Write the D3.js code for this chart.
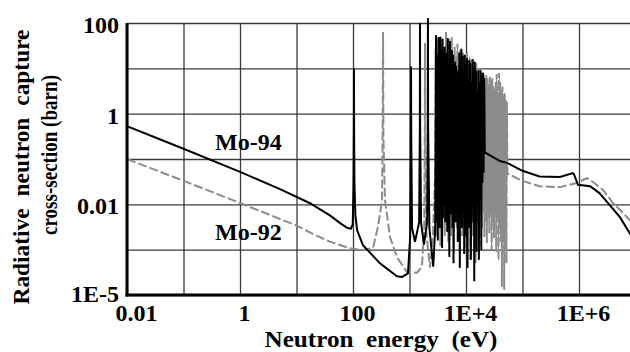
<!DOCTYPE html>
<html>
<head>
<meta charset="utf-8">
<script src="https://cdn.jsdelivr.net/npm/d3@7"></script>
<style>
  body { margin: 0; background: #fff; }
  text { font-family: "Liberation Serif", "Times New Roman", serif; font-weight: bold; fill: #000; }
</style>
</head>
<body>
<svg width="630" height="352"></svg>
<script>
// Constants
const svg = d3.select('svg');
const width = +svg.attr('width');
const height = +svg.attr('height');
const margin = { top: 23, right: 0, bottom: 57, left: 127 };
const decade_w = 56.5;

// Axis ticks and labels as printed
const x_grid = [0.01, 0.1, 1, 10, 100, 1e3, 1e4, 1e5, 1e6, 1e7];
const y_grid = [1e-4, 1e-3, 0.01, 0.1, 1, 10, 100];
const x_ticks = [0.01, 1, 100, 1e4, 1e6];
const x_tick_labels = ['0.01', '1', '100', '1E+4', '1E+6'];
const y_ticks = [1e-4, 0.01, 1, 100];
const y_tick_labels = ['1E-5', '0.01', '1', '100'];

// Mo-94 capture cross-section [energy eV, barn]
const mo94 = [
  [0.01, 0.53], [0.1, 0.168], [1, 0.052], [5, 0.022], [17, 0.0107], [39, 0.0057], [60, 0.0038],
  [80, 0.0030], [92, 0.0029], [99, 0.0036], [102, 0.03], [103.5, 0.6], [104, 10], [104.5, 0.6],
  [106, 0.03], [110, 0.006], [118, 0.0027], [150, 0.00126], [300, 5e-4], [600, 2.6e-4], [740, 2.5e-4],
  [940, 3e-4], [1030, 0.002], [1058, 0.4], [1065, 11], [1072, 0.4], [1110, 0.003], [1250, 0.0015],
  [1480, 0.004], [1525, 0.5], [1535, 100], [1545, 0.5], [1600, 0.004], [1800, 0.0013], [2050, 0.004],
  [2105, 0.6], [2120, 129], [2135, 0.6], [2250, 0.003], [2630, 4.2e-4],
  [2850, 0.003], [2950, 54], [3020, 0.004], [3100, 20], [3170, 0.0016], [3250, 48], [3310, 0.006],
  [3380, 12], [3450, 0.003], [3520, 50], [3610, 0.008], [3700, 25], [3770, 0.0011], [3850, 45],
  [3920, 0.005], [4000, 15], [4100, 0.01], [4200, 30], [4290, 0.004], [4380, 8], [4460, 0.007],
  [4550, 22], [4650, 0.0025], [4750, 46], [4850, 0.009], [4950, 12], [5070, 0.0007], [5200, 40],
  [5300, 0.006], [5400, 18], [5520, 0.012], [5650, 25], [5770, 0.003], [5900, 20], [6020, 0.0005],
  [6150, 6], [6270, 0.008], [6400, 14], [6550, 0.004], [6700, 11], [6850, 0.01], [7000, 4],
  [7150, 0.0015], [7300, 9], [7450, 0.006], [7600, 22], [7770, 0.0004], [7950, 14], [8120, 0.009],
  [8300, 27], [8500, 0.003], [8700, 19], [8900, 0.012], [9100, 8], [9300, 0.0008], [9500, 20],
  [9700, 0.007], [9900, 12], [10150, 0.002], [10400, 17], [10650, 0.0004], [10900, 6], [11150, 0.008],
  [11400, 15], [11650, 0.003], [11900, 13], [12200, 0.0006], [12500, 5], [12800, 0.01], [13100, 16],
  [13400, 0.004], [13700, 10], [14000, 0.0002], [14300, 14], [14650, 0.006], [15000, 9], [15350, 0.0009],
  [15700, 3], [16100, 0.012], [16500, 9], [16900, 0.0006], [17300, 5], [17750, 0.02], [18200, 9],
  [18650, 0.001], [19100, 7], [19550, 0.03], [20000, 8], [20500, 0.05], [21000, 6], [21500, 0.14],
  [40000, 0.09], [53000, 0.082], [1e5, 0.055], [2e5, 0.041], [4.6e5, 0.040], [7.8e5, 0.049],
  [8.2e5, 0.045], [9.6e5, 0.027], [1.57e6, 0.025], [2.3e6, 0.0177], [3.5e6, 0.0096], [5.3e6, 0.0052],
  [7.9e6, 0.0023], [1e7, 0.0015]
];

// Mo-92 capture cross-section [energy eV, barn]
const mo92 = [
  [0.01, 0.1], [0.1, 0.033], [1, 0.0107], [10, 0.0034], [20, 0.0022], [39, 0.0015], [88, 0.00107],
  [150, 0.00098], [226, 0.0011], [277, 0.0032], [310, 0.008], [326, 0.0125], [334, 0.3], [340, 63],
  [346, 0.3], [368, 0.0125], [452, 0.0019], [601, 6.8e-4], [904, 3.2e-4], [1360, 3.1e-4], [1660, 4.2e-4],
  [1820, 0.003], [1865, 0.4], [1880, 36], [1895, 0.4], [1950, 0.003], [2300, 4e-4], [2600, 0.002],
  [2850, 0.05], [2900, 30], [3020, 0.002], [3150, 12], [3270, 0.004], [3400, 40], [3520, 0.0012],
  [3650, 18], [3800, 0.006], [3950, 25], [4200, 0.002], [4430, 63], [4560, 0.004], [4700, 20],
  [4850, 0.0015], [5000, 45], [5150, 0.007], [5300, 15], [5450, 0.002], [5600, 49], [5770, 0.005],
  [5950, 10], [6120, 0.0009], [6300, 30], [6470, 0.006], [6650, 18], [6850, 0.003], [7050, 35],
  [7250, 0.008], [7450, 12], [7650, 0.0015], [7850, 25], [8070, 0.005], [8300, 20], [8550, 0.002],
  [8800, 22], [9050, 0.007], [9300, 9], [9550, 0.0011], [9800, 18], [10100, 0.006], [10400, 22],
  [10700, 0.003], [11000, 12], [11300, 0.008], [11600, 18], [11950, 0.0006], [12300, 15], [12650, 0.005],
  [13000, 8], [13350, 0.002], [13700, 15], [14050, 0.007], [14400, 11], [14800, 0.0005], [15200, 13],
  [15600, 0.004], [16000, 7], [16400, 0.009], [16800, 10], [17250, 0.0012], [17700, 10], [18150, 0.006],
  [18600, 6], [19100, 0.003], [19600, 8], [20100, 0.007], [20600, 7.5], [21150, 0.0019], [21700, 5],
  [22250, 0.004], [22800, 7], [23400, 0.0014], [24000, 6], [24600, 0.005], [25200, 4.5], [25850, 0.0023],
  [26500, 6.5], [27150, 0.006], [27800, 5.5], [28450, 0.001], [29100, 6], [29800, 0.004], [30500, 4],
  [31250, 0.0018], [32000, 3.5], [32750, 0.006], [33500, 5], [34250, 0.0009], [35000, 7.5],
  [35850, 0.005], [36700, 4], [37600, 0.0006], [38500, 7.9], [39400, 0.003], [40300, 5], [41250, 0.0015],
  [42200, 3.2], [43200, 0.00015], [44200, 3.9], [45250, 0.002], [46300, 2.5], [47400, 0.00013],
  [48500, 2.8], [49650, 0.001], [50800, 2.0], [51900, 0.0005], [53000, 1.8], [54000, 0.048],
  [1e5, 0.033], [2e5, 0.025], [4.6e5, 0.024], [9.1e5, 0.0295], [1.38e6, 0.038], [1.77e6, 0.031],
  [2.7e6, 0.0205], [4e6, 0.0107], [6e6, 0.0065], [7.9e6, 0.0045], [1e7, 0.0034]
];

// Resonance forest ranges (eV), drawn solid on top so the dense lines fill in
const mo94_forest = [2800, 21500];
const mo92_forest = [2800, 54000];

// Scales
const inner_height = height - margin.top - margin.bottom;
const x_scale = d3.scaleLog()
  .domain([0.01, 1e7])
  .range([margin.left, margin.left + 9 * decade_w]);
const y_scale = d3.scaleLog()
  .domain([1e-4, 100])
  .range([margin.top + inner_height, margin.top]);

const defs = svg.append('defs');
const add_clip = (id, x0, x1) => defs.append('clipPath')
  .attr('id', id)
  .append('rect')
  .attr('x', x0)
  .attr('y', 0)
  .attr('width', x1 - x0)
  .attr('height', margin.top + inner_height);
add_clip('plot-clip', margin.left, width);
add_clip('mo94-forest', x_scale(mo94_forest[0]), x_scale(mo94_forest[1]));
add_clip('mo92-forest', x_scale(mo92_forest[0]), x_scale(mo92_forest[1]));

// Grid
svg.append('g')
  .attr('transform', `translate(0, ${margin.top + inner_height})`)
  .call(d3.axisBottom(x_scale).tickValues(x_grid).tickSize(-inner_height).tickFormat(''))
  .call(g => g.select('.domain').remove())
  .call(g => g.selectAll('line').attr('stroke', '#3a3a3a').attr('stroke-width', 1.3));

svg.append('g')
  .attr('transform', `translate(${margin.left}, 0)`)
  .call(d3.axisLeft(y_scale).tickValues(y_grid).tickSize(-(width - margin.left)).tickFormat(''))
  .call(g => g.select('.domain').remove())
  .call(g => g.selectAll('line').attr('stroke', '#3a3a3a').attr('stroke-width', 1.3));

// Curves
const line = d3.line()
  .x(d => x_scale(d[0]))
  .y(d => y_scale(d[1]));

const curves = svg.append('g').attr('clip-path', 'url(#plot-clip)');
curves.append('path')
  .datum(mo92)
  .attr('d', line)
  .attr('fill', 'none')
  .attr('stroke', '#8c8c8c')
  .attr('stroke-width', 2)
  .attr('stroke-dasharray', '9,3');
curves.append('path')
  .datum(mo92)
  .attr('d', line)
  .attr('clip-path', 'url(#mo92-forest)')
  .attr('fill', 'none')
  .attr('stroke', '#8c8c8c')
  .attr('stroke-width', 1)
  .attr('shape-rendering', 'crispEdges');
curves.append('path')
  .datum(mo94)
  .attr('d', line)
  .attr('fill', 'none')
  .attr('stroke', '#000')
  .attr('stroke-width', 2);
curves.append('path')
  .datum(mo94)
  .attr('d', line)
  .attr('clip-path', 'url(#mo94-forest)')
  .attr('fill', 'none')
  .attr('stroke', '#000')
  .attr('stroke-width', 1)
  .attr('shape-rendering', 'crispEdges');

// Axis lines
svg.append('line')
  .attr('x1', margin.left).attr('x2', margin.left)
  .attr('y1', margin.top).attr('y2', margin.top + inner_height + 1.5)
  .attr('stroke', '#000').attr('stroke-width', 3);
svg.append('line')
  .attr('x1', margin.left - 1.5).attr('x2', width)
  .attr('y1', margin.top + inner_height).attr('y2', margin.top + inner_height)
  .attr('stroke', '#000').attr('stroke-width', 3);

// Tick labels
svg.append('g')
  .attr('transform', `translate(0, ${margin.top + inner_height})`)
  .call(d3.axisBottom(x_scale).tickValues(x_ticks).tickSize(0).tickPadding(0)
    .tickFormat((d, i) => x_tick_labels[i]))
  .call(g => g.select('.domain').remove())
  .call(g => g.selectAll('text')
    .attr('y', 26)
    .attr('dy', 0)
    .attr('dx', (d, i) => i === 0 ? 9 : 4)
    .style('font-size', '24px')
    .style('font-family', '"Liberation Serif", serif')
    .style('font-weight', 'bold')
    .attr('fill', '#000'));

svg.append('g')
  .attr('transform', `translate(${margin.left}, 0)`)
  .call(d3.axisLeft(y_scale).tickValues(y_ticks).tickSize(0).tickPadding(8)
    .tickFormat((d, i) => y_tick_labels[i]))
  .call(g => g.select('.domain').remove())
  .call(g => g.selectAll('text')
    .attr('dy', (d, i) => i === 0 ? '0.25em' : '0.4em')
    .style('font-size', '24px')
    .style('font-family', '"Liberation Serif", serif')
    .style('font-weight', 'bold')
    .attr('fill', '#000'));

// Series labels
svg.append('text')
  .attr('x', 215)
  .attr('y', 150)
  .attr('font-size', '24px')
  .text('Mo-94');
svg.append('text')
  .attr('x', 215)
  .attr('y', 240)
  .attr('font-size', '24px')
  .text('Mo-92');

// Axis titles
svg.append('text')
  .attr('x', 381)
  .attr('y', 347)
  .attr('text-anchor', 'middle')
  .attr('font-size', '24px')
  .attr('word-spacing', '6px')
  .attr('textLength', 233)
  .attr('lengthAdjust', 'spacingAndGlyphs')
  .text('Neutron energy (eV)');

svg.append('text')
  .attr('transform', 'translate(29, 167) rotate(-90)')
  .attr('text-anchor', 'middle')
  .attr('font-size', '23px')
  .attr('word-spacing', '6px')
  .attr('textLength', 275)
  .attr('lengthAdjust', 'spacingAndGlyphs')
  .text('Radiative neutron capture');

svg.append('text')
  .attr('transform', 'translate(57, 155) rotate(-90)')
  .attr('text-anchor', 'middle')
  .attr('font-size', '23px')
  .attr('textLength', 160)
  .attr('lengthAdjust', 'spacingAndGlyphs')
  .text('cross-section (barn)');
</script>
</body>
</html>
